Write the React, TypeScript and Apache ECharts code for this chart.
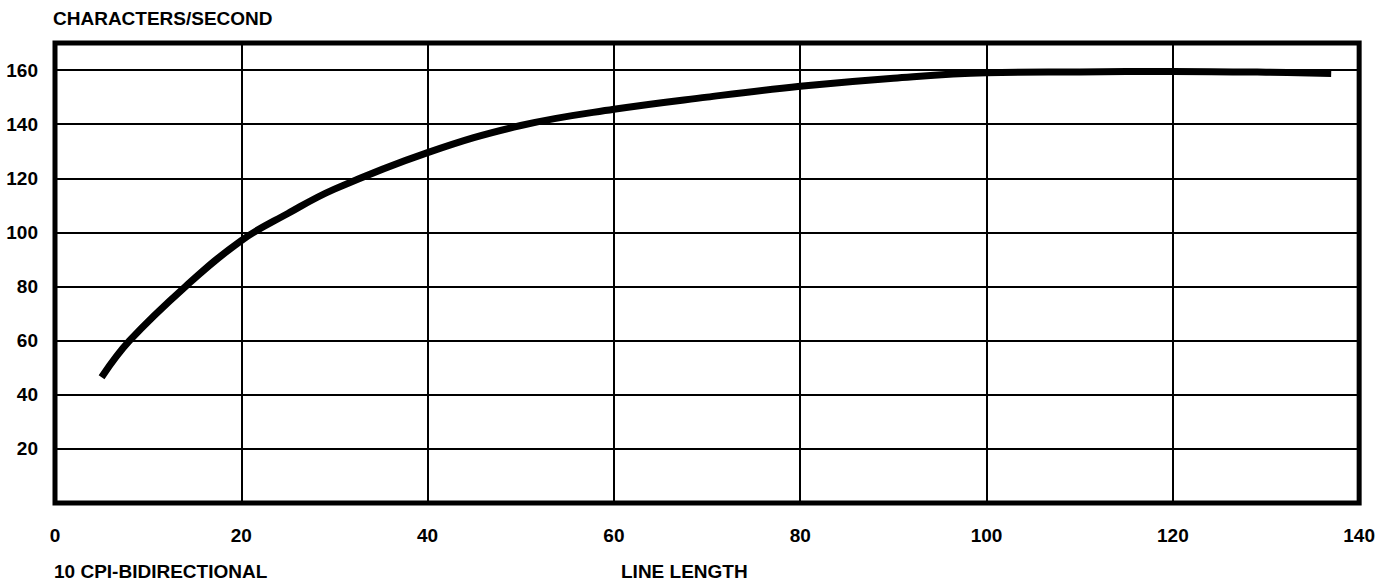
import React, { useEffect, useRef } from "react";
import * as echarts from "echarts";

const lineLength = [5, 8, 14, 20, 25, 30, 40, 50, 60, 70, 80, 90, 100, 110, 120, 130, 137];
const charsPerSecond = [46.5, 60, 80, 97, 107, 116, 129.5, 139.5, 145.5, 150, 154, 157, 159, 159.3, 159.5, 159.2, 158.7];

const xTicks = [0, 20, 40, 60, 80, 100, 120, 140];
const yTicks = [20, 40, 60, 80, 100, 120, 140, 160];

const yTitle = "CHARACTERS/SECOND";
const xTitle = "LINE LENGTH";
const noteText = "10 CPI-BIDIRECTIONAL";

const FONT = '"Liberation Sans", Arial, Helvetica, sans-serif';

export default function App() {
  const ref = useRef<HTMLDivElement>(null);

  useEffect(() => {
    if (!ref.current) return;
    const chart = echarts.init(ref.current, null, { renderer: "svg" });
    const data = lineLength.map((x, i) => [x, charsPerSecond[i]]);
    chart.setOption({
      animation: false,
      backgroundColor: "#ffffff",
      grid: {
        left: 55,
        right: 17,
        top: 43,
        bottom: 81,
        show: true,
        borderColor: "#000000",
        borderWidth: 5,
        backgroundColor: "transparent",
        z: 10,
      },
      xAxis: {
        type: "value",
        min: 0,
        max: 140,
        interval: 20,
        axisLine: { show: false },
        axisTick: { show: false },
        splitLine: { show: true, lineStyle: { color: "#000000", width: 2 } },
        axisLabel: {
          margin: 23,
          color: "#000000",
          fontFamily: FONT,
          fontWeight: "bold",
          fontSize: 19,
          formatter: (v: number) => (xTicks.includes(v) ? String(v) : ""),
        },
      },
      yAxis: {
        type: "value",
        min: 0,
        max: 170,
        interval: 20,
        axisLine: { show: false },
        axisTick: { show: false },
        splitLine: { show: true, lineStyle: { color: "#000000", width: 2 } },
        axisLabel: {
          margin: 17,
          color: "#000000",
          fontFamily: FONT,
          fontWeight: "bold",
          fontSize: 19,
          formatter: (v: number) => (yTicks.includes(v) ? String(v) : ""),
        },
      },
      series: [
        {
          type: "line",
          data,
          smooth: 0.4,
          showSymbol: false,
          symbol: "none",
          lineStyle: { color: "#000000", width: 7 },
          z: 5,
        },
      ],
      graphic: [
        {
          type: "text",
          left: 53,
          top: 9,
          style: {
            text: yTitle,
            fill: "#000000",
            font: `bold 19px ${FONT}`,
          },
        },
        {
          type: "text",
          left: 54,
          top: 562,
          style: {
            text: noteText,
            fill: "#000000",
            font: `bold 19px ${FONT}`,
          },
        },
        {
          type: "text",
          left: 621,
          top: 562,
          style: {
            text: xTitle,
            fill: "#000000",
            font: `bold 19px ${FONT}`,
          },
        },
      ],
    });
    return () => chart.dispose();
  }, []);

  return (
    <div
      ref={ref}
      style={{ position: "absolute", left: 0, top: 0, width: 1378, height: 584 }}
    />
  );
}
